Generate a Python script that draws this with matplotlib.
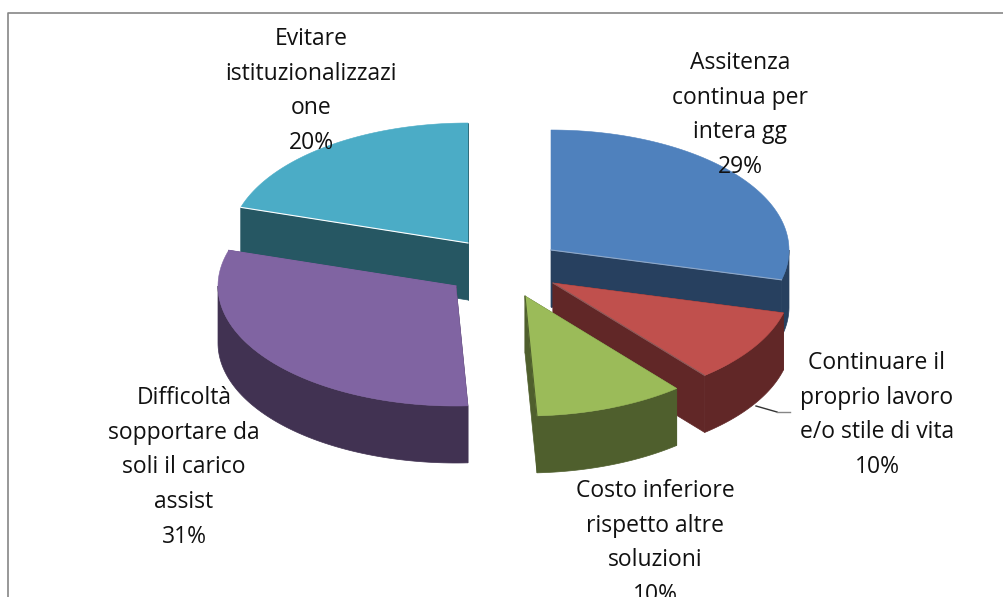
import numpy as np
import matplotlib
matplotlib.use("Agg")
from matplotlib import pyplot as plt
from matplotlib.patches import Polygon

# data
names = ["Assitenza\ncontinua per\nintera gg",
         "Continuare il\nproprio lavoro\ne/o stile di vita",
         "Costo inferiore\nrispetto altre\nsoluzioni",
         "Difficoltà\nsopportare da\nsoli il carico\nassist",
         "Evitare\nistituzionalizzazi\none"]
values = [29, 10, 10.2, 30.6, 20.2]

# look
top_colors = ["#4F81BD", "#C0504D", "#9BBB59", "#8064A2", "#4BACC6"]
side_colors = ["#27405F", "#612727", "#4F5F2D", "#413252", "#265763"]
edge_colors = ["#8FA8C8", "#8A5A5A", "#4F5F2D", "#8064A2", "#FFFFFF"]

# layout, in pixels of the picture
center = (500, 272)
rx, ry, depth = 238, 120, 57
explode_x = [51, 53, 25, -44, -32]
explode_y = [-22, 11, 24, 14, -29]
label_x = [740, 877, 655, 184, 311]
label_y = [63, 363, 491, 398, 39]
line_step = 34.7
draw_order = [4, 0, 3, 1, 2]

plt.rcParams["font.family"] = ["Open Sans", "DejaVu Sans"]

fig = plt.figure(figsize=(10.04, 5.97), dpi=100)
ax = fig.add_axes([0, 0, 1, 1])
ax.set_xlim(0, 1004)
ax.set_ylim(597, 0)
ax.axis("off")

# chart frame, cut by the picture on the right and at the bottom
ax.plot([8.5, 8.5, 1004], [597, 12.5, 12.5], color="#868686", lw=1.2)

# leader line of the red slice
ax.plot([756, 777], [406, 412], color="#333333", lw=1)
ax.plot([777, 790], [412, 412], color="#868686", lw=1)

shares = np.array(values) / sum(values)
ends = np.cumsum(shares) * 2 * np.pi
starts = ends - shares * 2 * np.pi


def rim(a, b, ox, oy):
    t = np.linspace(a, b, 80)
    return np.column_stack([ox + rx * np.sin(t), oy - ry * np.cos(t)])


for i in draw_order:
    ox = center[0] + explode_x[i]
    oy = center[1] + explode_y[i]
    a, b = starts[i], ends[i]
    arc = rim(a, b, ox, oy)
    down = np.array([0, depth])

    # cut faces
    for t in (a, b):
        p = rim(t, t, ox, oy)[0]
        face = [(ox, oy), p, p + down, (ox, oy + depth)]
        ax.add_patch(Polygon(face, closed=True, fc=side_colors[i], ec=side_colors[i], lw=0.5))

    # outer wall, only the part that faces the viewer
    lo, hi = max(a, np.pi / 2), min(b, 3 * np.pi / 2)
    if lo < hi:
        front = rim(lo, hi, ox, oy)
        wall = np.vstack([front, (front + down)[::-1]])
        ax.add_patch(Polygon(wall, closed=True, fc=side_colors[i], ec=side_colors[i], lw=0.5))

    # top
    ax.add_patch(Polygon(np.vstack([[(ox, oy)], arc]), closed=True,
                         fc=top_colors[i], ec=top_colors[i], lw=0.4))

    # thin light edge where the top meets the cut
    ax.plot([ox, arc[-1, 0] if i != 4 else arc[0, 0]],
            [oy, arc[-1, 1] if i != 4 else arc[0, 1]],
            color=edge_colors[i], lw=0.8)

for i in range(len(values)):
    lines = names[i].split("\n") + ["%.0f%%" % values[i]]
    for k, line in enumerate(lines):
        ax.text(label_x[i], label_y[i] + k * line_step, line, ha="center", va="center",
                fontsize=16.5, color="#111111")

fig.savefig("out.png", dpi=100)
